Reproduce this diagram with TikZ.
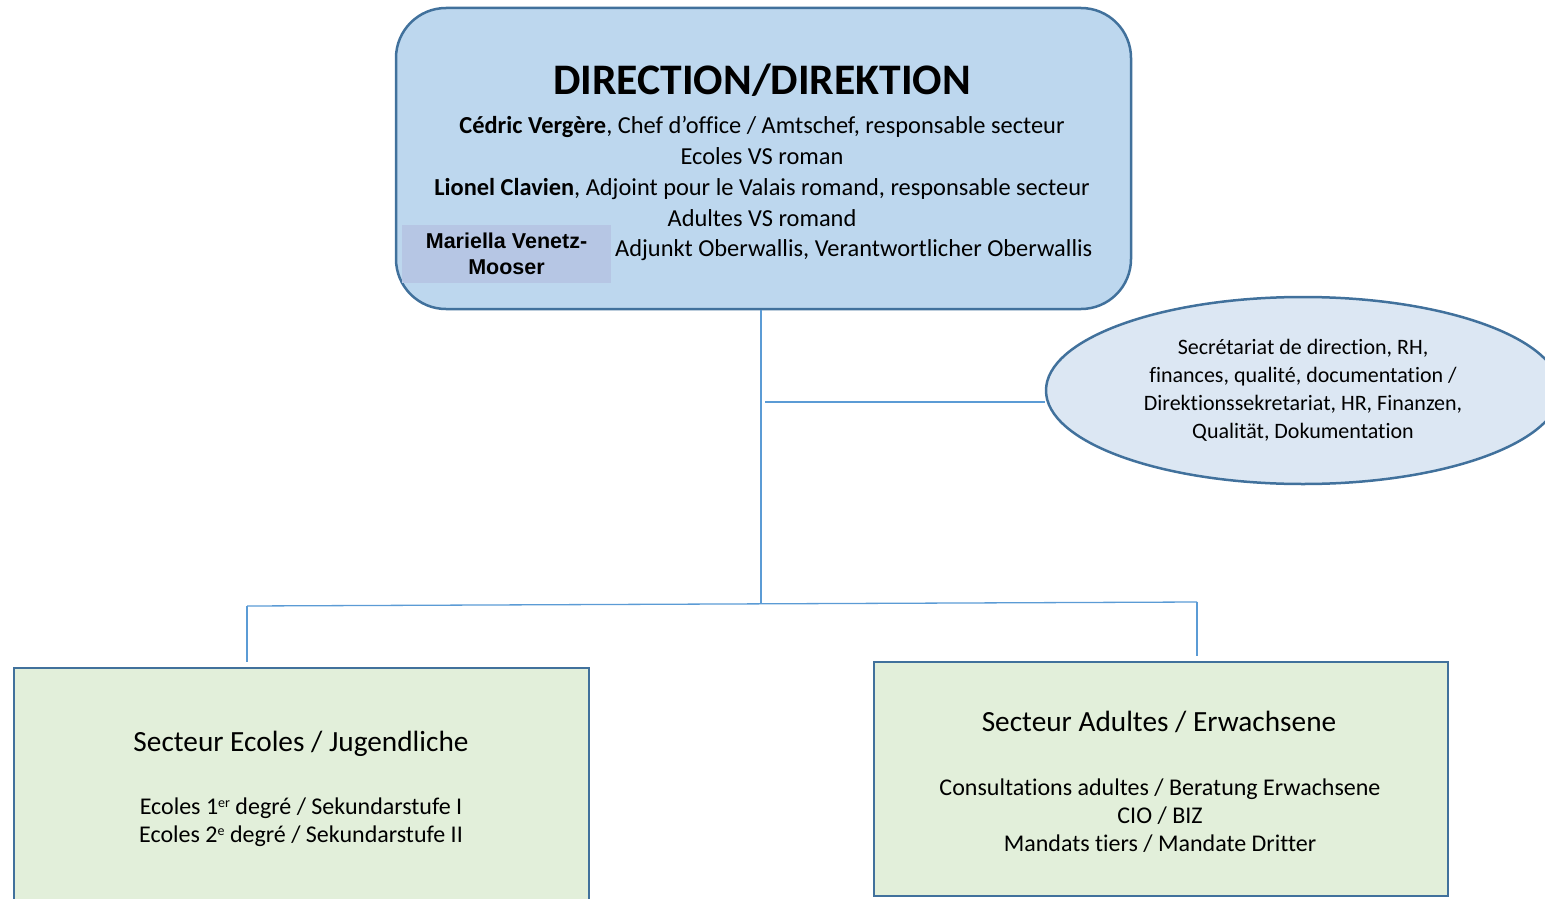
\documentclass[tikz,border=0pt]{standalone}
\usepackage{fontspec}
\setmainfont{Carlito}[Ligatures=NoCommon]
\newfontfamily\arialfont{Liberation Sans}
\usetikzlibrary{shapes.geometric,positioning,calc}

\definecolor{headfill}{RGB}{189,215,238}
\definecolor{boxline}{RGB}{65,113,156}
\definecolor{namefill}{RGB}{182,198,228}
\definecolor{secfill}{RGB}{220,231,243}
\definecolor{sectorfill}{RGB}{226,239,218}
\definecolor{wirecol}{RGB}{91,155,213}

\newcommand{\ordsup}[1]{\raisebox{0.55ex}{\fontsize{14}{14}\selectfont #1}}

\tikzset{
  head/.style={draw=boxline, line width=2.5pt, fill=headfill, rounded corners=50pt,
    minimum width=735pt, minimum height=301pt},
  headtitle/.style={font=\bfseries\fontsize{43.6}{50}\selectfont, inner sep=0pt},
  staff/.style={font=\fontsize{24.4}{31}\selectfont, inner sep=0pt},
  namebox/.style={fill=namefill, minimum width=209pt, minimum height=58pt, inner sep=0pt,
    align=center, font=\arialfont\bfseries\fontsize{21.5}{26.5}\selectfont},
  secretariat/.style={ellipse, draw=boxline, line width=2.5pt, fill=secfill,
    minimum width=514pt, minimum height=187pt, inner sep=0pt, align=center,
    font=\fontsize{22}{28}\selectfont},
  sector/.style={draw=boxline, line width=2.5pt, fill=sectorfill},
  sectortitle/.style={font=\fontsize{29.3}{34}\selectfont, inner sep=0pt},
  sectorline/.style={font=\fontsize{24}{28}\selectfont, inner sep=0pt},
  wire/.style={draw=wirecol, line width=1.3pt}
}

\begin{document}
\begin{tikzpicture}[x=1pt, y=-1pt]
  \useasboundingbox (0,0) rectangle (1545,899);

  % direction
  \node[head] (direction) at (763.5,158.5) {};
  \node[headtitle, anchor=base] (title) at (762,95) {DIRECTION/DIREKTION};
  \node[staff, anchor=base] (chef)    at (762,133) {\textbf{Cédric Vergère}, Chef d’office / Amtschef, responsable secteur};
  \node[staff, anchor=base] (chef2)   at (762,164) {Ecoles VS roman};
  \node[staff, anchor=base] (adjoint) at (762,195) {\textbf{Lionel Clavien}, Adjoint pour le Valais romand, responsable secteur};
  \node[staff, anchor=base] (adjoint2) at (762,226) {Adultes VS romand};
  \node[namebox] (mariella) at (506.5,254) {Mariella Venetz-\\Mooser};
  \node[staff, anchor=base west] (adjunkt) at (615,256) {Adjunkt Oberwallis, Verantwortlicher Oberwallis};

  % secretariat
  \node[secretariat] (secr) at (1303,390.5)
    {Secrétariat de direction, RH,\\ finances, qualité, documentation /\\ Direktionssekretariat, HR, Finanzen,\\ Qualität, Dokumentation};

  % sectors
  \node[sector, minimum width=575pt, minimum height=244pt] (ecoles) at (301.5,790) {};
  \node[sectortitle, anchor=base] (ecolestitle) at (301,751) {Secteur Ecoles / Jugendliche};
  \node[sectorline, anchor=base] (ecoles1) at (301,814) {Ecoles 1\ordsup{er} degré / Sekundarstufe I};
  \node[sectorline, anchor=base] (ecoles2) at (301,842) {Ecoles 2\ordsup{e} degré / Sekundarstufe II};

  \node[sector, minimum width=574pt, minimum height=234pt] (adultes) at (1161,779) {};
  \node[sectortitle, anchor=base] (adultestitle) at (1159,731) {Secteur Adultes / Erwachsene};
  \node[sectorline, anchor=base] (adultes1) at (1160,795) {Consultations adultes / Beratung Erwachsene};
  \node[sectorline, anchor=base] (adultes2) at (1160,823) {CIO / BIZ};
  \node[sectorline, anchor=base] (adultes3) at (1160,851) {Mandats tiers / Mandate Dritter};

  % connectors
  \coordinate (bus)  at (761,604);
  \coordinate (busL) at (247,606);
  \coordinate (busR) at (1197,602);
  \coordinate (tap)  at (765,402);
  \draw[wire] (bus |- direction.south) -- (bus);
  \draw[wire] (tap) -- (tap -| secr.west);
  \draw[wire] (busL) -- (busR);
  \draw[wire, shorten >=5pt] (busL) -- (busL |- ecoles.north);
  \draw[wire, shorten >=5pt] (busR) -- (busR |- adultes.north);
\end{tikzpicture}
\end{document}
